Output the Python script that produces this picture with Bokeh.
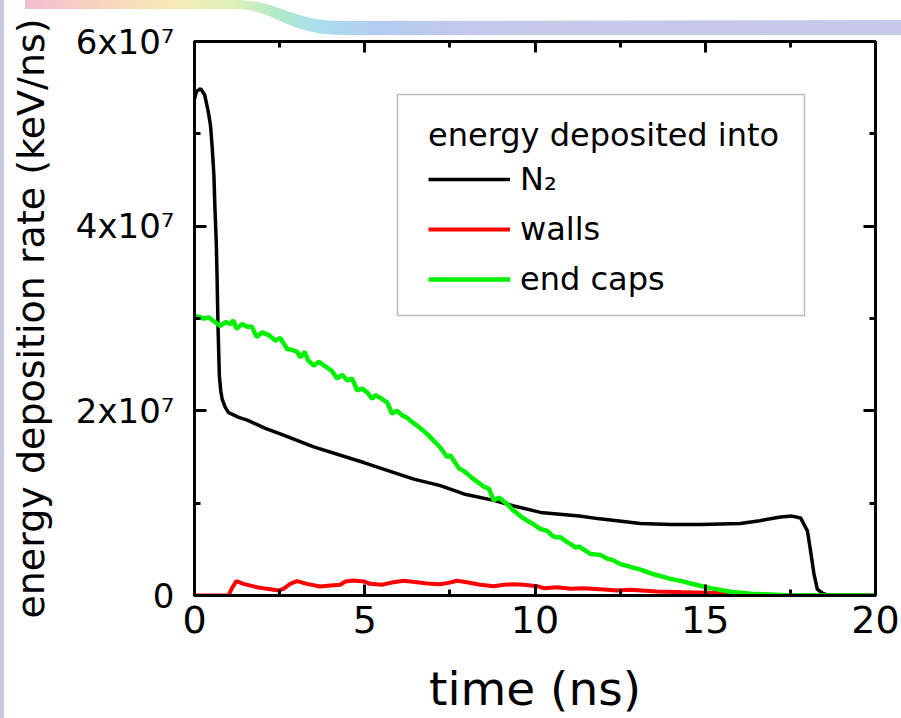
from bokeh.plotting import figure
from bokeh.models import Range1d, LinearAxis, FixedTicker, Legend, LegendItem, BoxAnnotation
from bokeh.embed import file_html
from bokeh.resources import INLINE

# ---- data: time in ns, deposition rate in units of 1e6 keV/ns ----
n2_t = [0.0, 0.06, 0.18, 0.3, 0.4, 0.47, 0.52, 0.57, 0.6, 0.64, 0.66, 0.69, 0.73, 0.77,
        0.81, 0.9, 1.0, 1.3, 1.55, 2.08, 2.52, 3.5, 4.97, 6.44, 7.22, 7.91, 8.79, 9.38,
        10.16, 11.3, 11.9, 13.1, 14.0, 14.86, 16.03, 16.6, 17.21, 17.55, 17.8, 18.0,
        18.09, 18.19, 18.29, 18.44, 18.6, 18.8, 20.0]
n2_rate = [53.8, 54.6, 54.9, 54.2, 52.5, 50.9, 48.5, 45.5, 42.0, 38.2, 35.0, 29.2, 23.8, 22.2,
           21.3, 20.4, 19.8, 19.3, 19.0, 18.1, 17.5, 16.1, 14.4, 12.6, 11.9, 11.0, 10.3, 9.7,
           9.0, 8.6, 8.3, 7.8, 7.7, 7.7, 7.8, 8.1, 8.5, 8.6, 8.4, 7.0,
           4.9, 2.4, 0.7, 0.25, 0.05, 0.0, 0.0]

walls_t = [0.0, 1.0, 1.1, 1.23, 1.44, 1.83, 2.13, 2.47, 2.61, 2.81, 3.01, 3.3, 3.69, 3.99,
           4.28, 4.43, 4.67, 4.97, 5.16, 5.51, 5.75, 6.14, 6.53, 6.92, 7.22, 7.46, 7.71, 8.0,
           8.39, 8.79, 9.08, 9.38, 9.67, 10.06, 10.26, 10.65, 11.04, 11.43, 12.02, 12.41,
           12.8, 13.58, 14.37, 15.15, 15.93, 16.72, 17.5, 20.0]
walls_rate = [0.0, 0.0, 0.8, 1.55, 1.26, 0.9, 0.72, 0.54, 0.72, 1.26, 1.55, 1.26, 0.97, 1.08,
              1.16, 1.52, 1.62, 1.52, 1.26, 1.16, 1.37, 1.59, 1.44, 1.26, 1.22, 1.37, 1.59, 1.44,
              1.16, 1.01, 1.16, 1.22, 1.16, 1.01, 0.79, 0.9, 0.72, 0.79, 0.65, 0.54,
              0.61, 0.43, 0.36, 0.29, 0.14, 0.07, 0.0, 0.0]

caps_t = [0.0, 0.27, 0.42, 0.57, 0.76, 0.91, 1.06, 1.14, 1.23, 1.4, 1.55, 1.69, 1.82, 1.99,
          2.18, 2.38, 2.52, 2.72, 2.87, 3.01, 3.11, 3.24, 3.33, 3.5, 3.65, 3.85, 4.04, 4.19,
          4.34, 4.48, 4.63, 4.78, 4.92, 5.07, 5.22, 5.31, 5.46, 5.66, 5.8, 5.95, 6.1, 6.22,
          6.39, 6.64, 6.83, 7.12, 7.22, 7.42, 7.51, 7.76, 7.9, 8.2, 8.49, 8.64, 8.79, 8.94,
          9.18, 9.37, 9.57, 9.77, 9.92, 10.16, 10.36, 10.5, 10.6, 10.75, 10.94, 11.19, 11.3,
          11.63, 11.92, 12.12, 12.31, 12.51, 12.71, 12.9, 13.1, 13.49, 13.98, 14.37, 14.57,
          15.15, 15.74, 16.33, 16.92, 17.5, 20.0]
caps_rate = [30.3, 30.0, 30.1, 29.7, 29.2, 29.6, 29.4, 29.8, 28.9, 29.4, 29.1, 29.1, 28.0, 28.5,
             28.2, 27.6, 27.9, 26.7, 26.6, 26.4, 25.8, 26.4, 25.5, 24.9, 25.3, 24.8, 24.3, 23.5,
             23.9, 23.3, 23.5, 22.2, 22.4, 22.0, 21.3, 21.7, 21.4, 20.9, 19.7, 20.0, 19.5, 19.3,
             18.8, 18.1, 17.5, 16.4, 16.0, 15.0, 15.2, 13.8, 13.5, 12.6, 11.8, 11.6, 10.3, 10.6,
             9.9, 9.2, 8.6, 8.1, 7.8, 7.2, 7.0, 6.5, 6.3, 6.3, 5.8, 5.2, 5.3,
             4.5, 4.4, 4.0, 3.8, 3.4, 3.2, 3.0, 2.8, 2.3, 1.8, 1.5, 1.3,
             0.8, 0.4, 0.2, 0.1, 0.0, 0.0]

RATE_UNIT = 1e6  # keV/ns per data unit above

x_ticks = [0, 5, 10, 15, 20]
x_minor_ticks = [2.5, 7.5, 12.5, 17.5]
x_tick_labels = ["0", "5", "10", "15", "20"]
y_ticks = [0, 2e7, 4e7, 6e7]
y_minor_ticks = [1e7, 3e7, 5e7]
y_tick_labels = ["0", "2x10\u2077", "4x10\u2077", "6x10\u2077"]

FONT = "DejaVu Sans"

# slide backdrop behind the chart: colour ribbon across the top, thin strip at the left edge
backdrop_svg = (
    "<svg xmlns='http://www.w3.org/2000/svg' width='901' height='718'>"
    "<defs><linearGradient id='g' x1='0' x2='1' y1='0' y2='0'>"
    "<stop offset='0' stop-color='%23f2b6cf'/>"
    "<stop offset='0.08' stop-color='%23f6cdb8'/>"
    "<stop offset='0.17' stop-color='%23f6e8b0'/>"
    "<stop offset='0.24' stop-color='%23d8f0b0'/>"
    "<stop offset='0.29' stop-color='%23a8e6c4'/>"
    "<stop offset='0.33' stop-color='%23a0dcea'/>"
    "<stop offset='0.40' stop-color='%23aac8f0'/>"
    "<stop offset='0.50' stop-color='%23bcc2ea'/>"
    "<stop offset='0.60' stop-color='%23c2c2e6'/>"
    "<stop offset='1' stop-color='%23c2c2e6'/>"
    "</linearGradient></defs>"
    "<path d='M25,0 L235,0 C280,0 290,21 345,21 L901,20 L901,35 L345,35 "
    "C285,35 275,9 235,9 L25,9 Z' fill='url(%23g)' opacity='0.9'/>"
    "<rect x='0' y='0' width='4' height='718' fill='%23c6c6de'/>"
    "</svg>"
)

p = figure(width=901, height=718, x_range=Range1d(0, 20), y_range=Range1d(0, 6e7),
           output_backend="svg", toolbar_location=None,
           min_border_left=194, min_border_right=26, min_border_top=41, min_border_bottom=123,
           background_fill_alpha=0.0, border_fill_alpha=0.0)
p.styles = {"background-color": "white",
            "background-image": f'url("data:image/svg+xml;utf8,{backdrop_svg}")',
            "background-repeat": "no-repeat",
            "background-size": "901px 718px"}
p.xgrid.visible = False
p.ygrid.visible = False
p.outline_line_color = "black"
p.outline_line_width = 3

xticker = FixedTicker(ticks=x_ticks, minor_ticks=x_minor_ticks)
yticker = FixedTicker(ticks=y_ticks, minor_ticks=y_minor_ticks)


def style_axis(ax, ticker, major_len, minor_len):
    ax.ticker = ticker
    ax.axis_line_width = 3
    ax.axis_line_color = "black"
    ax.major_tick_line_width = 3
    ax.minor_tick_line_width = 3
    ax.major_tick_in = major_len
    ax.major_tick_out = 0
    ax.minor_tick_in = minor_len
    ax.minor_tick_out = 0
    ax.major_label_text_color = "black"
    ax.axis_label_text_color = "black"


# bottom axis
xax = p.xaxis[0]
style_axis(xax, xticker, 11, 6)
xax.major_label_overrides = {t: s for t, s in zip(x_ticks, x_tick_labels)}
xax.major_label_text_font = FONT
xax.major_label_text_font_size = "38px"
xax.major_label_standoff = 10
xax.axis_label = "time (ns)"
xax.axis_label_text_font = FONT
xax.axis_label_text_font_size = "47px"
xax.axis_label_text_font_style = "normal"
xax.axis_label_standoff = 25

# left axis
yax = p.yaxis[0]
style_axis(yax, yticker, 12, 6)
yax.major_label_overrides = {t: s for t, s in zip(y_ticks, y_tick_labels)}
yax.major_label_text_font = FONT
yax.major_label_text_font_size = "34px"
yax.major_label_standoff = 20
yax.axis_label = "energy deposition rate (keV/ns)"
yax.axis_label_text_font = FONT
yax.axis_label_text_font_size = "38px"
yax.axis_label_text_font_style = "normal"
yax.axis_label_standoff = 20

# mirrored axes on top and right (ticks only)
top_ax = LinearAxis()
style_axis(top_ax, xticker, 11, 6)
top_ax.major_label_overrides = {t: "" for t in x_ticks}
top_ax.major_label_standoff = 0
p.add_layout(top_ax, "above")

right_ax = LinearAxis()
style_axis(right_ax, yticker, 12, 6)
right_ax.major_label_overrides = {t: "" for t in y_ticks}
right_ax.major_label_standoff = 0
p.add_layout(right_ax, "right")

# curves
r_n2 = p.line(n2_t, [v * RATE_UNIT for v in n2_rate], line_color="black", line_width=3.5)
r_walls = p.line(walls_t, [v * RATE_UNIT for v in walls_rate], line_color="#ff0000", line_width=4)
r_caps = p.line(caps_t, [v * RATE_UNIT for v in caps_rate], line_color="#00f000", line_width=4.5)

# legend frame
p.add_layout(BoxAnnotation(left=397, right=804, top=94, bottom=315, left_units="canvas",
                           right_units="canvas", top_units="canvas", bottom_units="canvas",
                           fill_color="white", fill_alpha=1.0, line_color="#222222",
                           line_width=1.5))

legend = Legend(items=[LegendItem(label="N\u2082", renderers=[r_n2]),
                       LegendItem(label="walls", renderers=[r_walls]),
                       LegendItem(label="end caps", renderers=[r_caps])],
                title="energy deposited into", location=(234, 296))
legend.title_text_font = FONT
legend.title_text_font_size = "32px"
legend.title_text_font_style = "normal"
legend.title_text_color = "black"
legend.title_standoff = 5
legend.label_text_font = FONT
legend.label_text_font_size = "32px"
legend.label_text_color = "black"
legend.glyph_width = 82
legend.glyph_height = 40
legend.label_height = 40
legend.label_standoff = 10
legend.spacing = 10
legend.padding = 10
legend.margin = 0
legend.border_line_color = None
legend.background_fill_alpha = 0.0
p.add_layout(legend)

open("out.html", "w").write(file_html(p, INLINE))
